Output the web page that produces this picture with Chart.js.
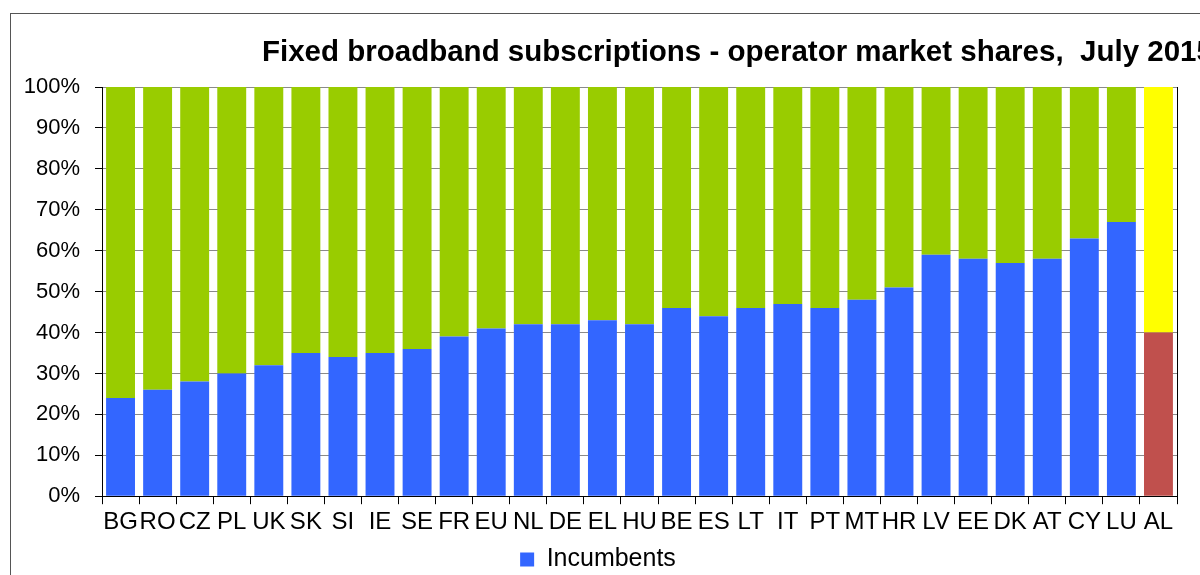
<!DOCTYPE html>
<html>
<head>
<meta charset="utf-8">
<title>Fixed broadband subscriptions - operator market shares</title>
<script src="https://cdn.jsdelivr.net/npm/chart.js@4.4.0/dist/chart.umd.min.js"></script>
<style>
    html, body { margin: 0; padding: 0; background: #fff; overflow: hidden; }
    #marco {
        position: absolute;
        left: 10px;
        top: 13px;
        width: 1189px;
        height: 562px;
        border-left: 1px solid #555;
        border-top: 1px solid #555;
    }
</style>
</head>
<body>
<div id="marco">
    <canvas id="grafica" width="1189" height="561"></canvas>
</div>
<script>
// Paises (orden del grafico)
const paises = ['BG', 'RO', 'CZ', 'PL', 'UK', 'SK', 'SI', 'IE', 'SE', 'FR', 'EU', 'NL', 'DE', 'EL',
    'HU', 'BE', 'ES', 'LT', 'IT', 'PT', 'MT', 'HR', 'LV', 'EE', 'DK', 'AT', 'CY', 'LU', 'AL'];

// Cuota de los operadores historicos (%)
const incumbentes = [24, 26, 28, 30, 32, 35, 34, 35, 36, 39, 41, 42, 42, 43,
    42, 46, 44, 46, 47, 46, 48, 51, 59, 58, 57, 58, 63, 67, 40];

// Cuota del resto de operadores (%)
const otros = [76, 74, 72, 70, 68, 65, 66, 65, 64, 61, 59, 58, 58, 57,
    58, 54, 56, 54, 53, 54, 52, 49, 41, 42, 43, 42, 37, 33, 60];

const ticksY = [0, 10, 20, 30, 40, 50, 60, 70, 80, 90, 100];

const titulo = 'Fixed broadband subscriptions - operator market shares,  July 2015';

const azul = '#3366FF';
const verde = '#99CC00';
const rojo = '#C0504D';
const amarillo = '#FFFF00';
const fuente = '"Liberation Sans", Arial, sans-serif';

const ultimo = paises.length - 1;

// Titulo cortado a la derecha, como en el original
const tituloPlugin = {
    id: 'tituloCortado',
    afterDraw(chart) {
        const ctx = chart.ctx;
        ctx.save();
        ctx.font = 'bold 29.5px ' + fuente;
        ctx.fillStyle = '#000';
        ctx.textAlign = 'left';
        ctx.textBaseline = 'alphabetic';
        ctx.fillText(titulo, 251, 47);
        ctx.restore();
    }
};

const $grafica = document.querySelector('#grafica');
new Chart($grafica, {
    type: 'bar',
    data: {
        labels: paises,
        datasets: [{
                label: 'Incumbents',
                data: incumbentes,
                backgroundColor: ctx => ctx.dataIndex === ultimo ? rojo : azul,
                borderWidth: 0,
                barPercentage: 0.78,
                categoryPercentage: 1
            }, {
                label: 'Others',
                data: otros,
                backgroundColor: ctx => ctx.dataIndex === ultimo ? amarillo : verde,
                borderWidth: 0,
                barPercentage: 0.78,
                categoryPercentage: 1
            }]
    },
    options: {
        responsive: false,
        devicePixelRatio: 1,
        animation: false,
        layout: {
            padding: { top: 73, right: 15, left: 0, bottom: -7 }
        },
        plugins: {
            title: { display: false },
            tooltip: { enabled: false },
            legend: {
                position: 'bottom',
                labels: {
                    filter: item => item.datasetIndex === 0,
                    boxWidth: 14,
                    boxHeight: 14,
                    padding: 6,
                    color: '#000',
                    font: { family: fuente, size: 25 }
                }
            }
        },
        scales: {
            x: {
                stacked: true,
                grid: {
                    drawOnChartArea: false,
                    drawTicks: true,
                    tickLength: 8,
                    tickColor: '#000',
                    offset: true
                },
                border: { display: true, color: '#000', width: 1 },
                ticks: {
                    color: '#000',
                    autoSkip: false,
                    maxRotation: 0,
                    minRotation: 0,
                    padding: 4,
                    font: { family: fuente, size: 24 }
                }
            },
            y: {
                stacked: true,
                min: 0,
                max: 100,
                afterFit: scale => { scale.width = 91; },
                afterBuildTicks: scale => { scale.ticks = ticksY.map(v => ({ value: v })); },
                grid: {
                    color: '#8a8a8a',
                    tickColor: '#000',
                    tickLength: 7
                },
                border: { display: true, color: '#000', width: 1 },
                ticks: {
                    color: '#000',
                    padding: 15,
                    font: { family: fuente, size: 22 },
                    callback: v => v + '%'
                }
            },
            derecha: {
                position: 'right',
                display: true,
                min: 0,
                max: 100,
                grid: { display: false },
                border: { display: true, color: '#000', width: 1 },
                ticks: { display: false }
            }
        }
    },
    plugins: [tituloPlugin]
});
</script>
</body>
</html>
